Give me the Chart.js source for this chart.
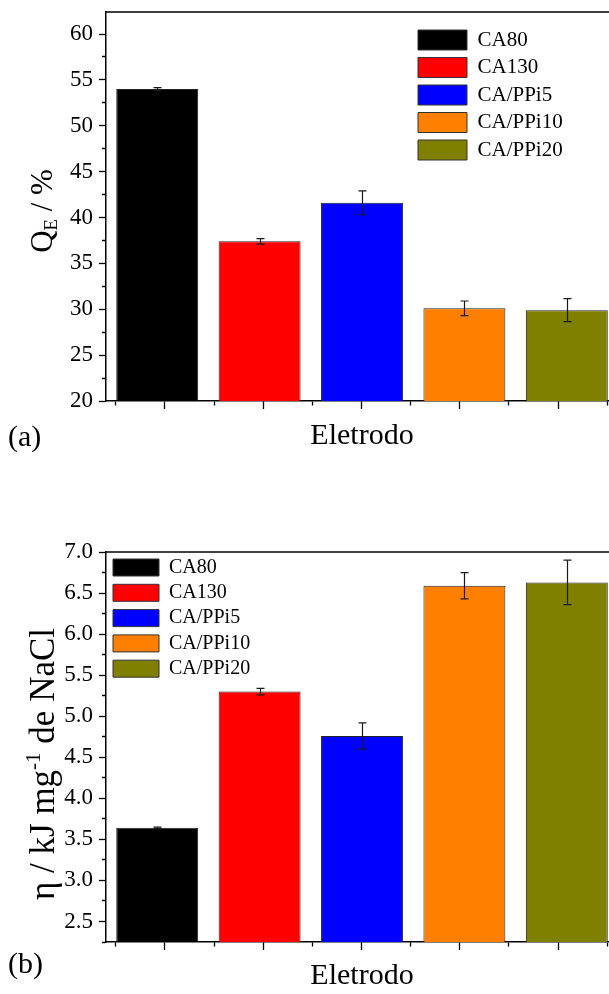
<!DOCTYPE html>
<html><head><meta charset="utf-8">
<script src="https://cdn.jsdelivr.net/npm/chart.js@4.4.0/dist/chart.umd.min.js"></script>
<style>
html,body{margin:0;padding:0;background:#fff;overflow:hidden;}
#wrap{position:relative;width:609px;height:994px;overflow:hidden;background:#fff;}
.box{position:absolute;left:0;width:620px;}
#b1{top:0;height:460px;}
#b2{top:530px;height:464px;}
canvas{display:block;}
</style></head><body>
<div id="wrap">
<div class="box" id="b1"><canvas id="c1" width="620" height="460"></canvas></div>
<div class="box" id="b2"><canvas id="c2" width="620" height="464"></canvas></div>
</div>
<script>
// ---- data ----
const categories = ['CA80', 'CA130', 'CA/PPi5', 'CA/PPi10', 'CA/PPi20'];
const qeValues = [54.0, 37.4, 41.6, 30.1, 29.9];
const qeErrors = [0.15, 0.3, 1.3, 0.8, 1.25];
const etaValues = [3.64, 5.30, 4.76, 6.59, 6.63];
const etaErrors = [0.01, 0.04, 0.16, 0.16, 0.27];
const barColors = ['#000000', '#ff0000', '#0000ff', '#ff8000', '#808000'];
const qeTickLabels = ['20', '25', '30', '35', '40', '45', '50', '55', '60'];
const etaTickLabels = ['2.5', '3.0', '3.5', '4.0', '4.5', '5.0', '5.5', '6.0', '6.5', '7.0'];
const xTitle = 'Eletrodo';

const FONT = "'Liberation Serif', 'Times New Roman', serif";

const errorBars = {
  id: 'errorBars',
  afterDatasetsDraw(chart, args, o) {
    const meta = chart.getDatasetMeta(0);
    const ys = chart.scales.y;
    const ds = chart.data.datasets[0];
    const ctx = chart.ctx;
    ctx.save();
    ctx.strokeStyle = '#1a1a1a';
    ctx.lineWidth = 1.2;
    meta.data.forEach((el, i) => {
      const v = ds.data[i], e = ds.errors[i];
      const yt = ys.getPixelForValue(v + e), yb = ys.getPixelForValue(v - e);
      const x = Math.round(el.x) + 0.5;
      ctx.beginPath();
      ctx.moveTo(x, yt); ctx.lineTo(x, yb);
      ctx.moveTo(x - 4, yt); ctx.lineTo(x + 4, yt);
      ctx.moveTo(x - 4, yb); ctx.lineTo(x + 4, yb);
      ctx.stroke();
    });
    ctx.restore();
  }
};

const decor = {
  id: 'decor',
  afterLayout(chart, args, o) {
    if (chart.legend && o.legendLeft !== undefined) {
      const lg = chart.legend;
      const w = lg.right - lg.left, h = lg.bottom - lg.top;
      lg.left = o.legendLeft; lg.top = o.legendTop;
      lg.right = lg.left + w; lg.bottom = lg.top + h;
    }
  },
  afterDraw(chart, args, o) {
    const ctx = chart.ctx, ca = chart.chartArea;
    ctx.save();
    // top frame line
    ctx.strokeStyle = '#000'; ctx.lineWidth = 1.5;
    ctx.beginPath(); ctx.moveTo(ca.left, ca.top); ctx.lineTo(ca.right, ca.top); ctx.stroke();
    // panel label
    ctx.fillStyle = '#000';
    ctx.font = '30px ' + FONT;
    ctx.textBaseline = 'middle'; ctx.textAlign = 'left';
    ctx.fillText(o.panel, o.panelX, o.panelY);
    // rotated y title with sub/superscript parts
    ctx.translate(o.titleX, o.titleY);
    ctx.rotate(-Math.PI / 2);
    const size = o.titleSize;
    const parts = o.titleParts;
    let total = 0;
    parts.forEach(p => {
      ctx.font = (p.s ? size * 0.6 : size) + 'px ' + FONT;
      p.w = ctx.measureText(p.t).width;
      total += p.w;
    });
    let x = -total / 2;
    ctx.textAlign = 'left'; ctx.textBaseline = 'alphabetic';
    parts.forEach(p => {
      ctx.font = (p.s ? size * 0.6 : size) + 'px ' + FONT;
      const dy = p.s === 'sub' ? size * 0.18 : (p.s === 'sup' ? -size * 0.42 : 0);
      ctx.fillText(p.t, x, size * 0.35 + dy);
      x += p.w;
    });
    ctx.restore();
  }
};

function makeChart(id, cfg) {
  const isMajor = v => cfg.tickLabels.includes(cfg.fmt(v));
  return new Chart(document.getElementById(id), {
    type: 'bar',
    data: {
      labels: categories,
      datasets: [{
        data: cfg.values,
        errors: cfg.errors,
        backgroundColor: barColors,
        borderColor: '#222',
        borderWidth: 1,
        categoryPercentage: 1,
        barPercentage: 0.8,
        xAxisID: 'x', yAxisID: 'y'
      }]
    },
    options: {
      responsive: false,
      animation: false,
      devicePixelRatio: 1,
      layout: { padding: { top: cfg.padTop, right: 2, left: 0, bottom: 0 } },
      plugins: {
        tooltip: { enabled: false },
        legend: {
          display: true,
          position: 'chartArea',
          align: 'start',
          labels: {
            font: { family: FONT, size: cfg.legFont },
            color: '#000',
            boxWidth: cfg.boxW, boxHeight: cfg.boxH,
            padding: cfg.legPad,
            generateLabels: (chart) => categories.map((c, i) => ({
              text: c, fillStyle: barColors[i], strokeStyle: '#333', lineWidth: 1,
              hidden: false, index: i, fontColor: '#000'
            }))
          }
        },
        decor: cfg.decor
      },
      scales: {
        x: { type: 'category', display: false, offset: true },
        xt: {
          type: 'linear', position: 'bottom', min: 0.4, max: 5.61, offset: false,
          ticks: { stepSize: 0.5, includeBounds: false, autoSkip: false, callback: () => '', padding: 0 },
          grid: {
            offset: false,
            drawOnChartArea: false, tickLength: 8, tickWidth: 1.3, tickColor: '#000',
            tickBorderDash: (c) => (c.tick && Math.abs(c.tick.value - Math.round(c.tick.value)) < 1e-6) ? [] : [4, 100]
          },
          border: { color: '#000', width: 1.5 },
          title: { display: true, text: xTitle, color: '#000', font: { family: FONT, size: 30 }, padding: { top: 0, bottom: cfg.xTitlePad } },
          afterFit: (s) => { s.height = cfg.xtHeight; s.paddingLeft = 0; s.paddingRight = 0; }
        },
        y: {
          type: 'linear', position: 'left', min: cfg.min, max: cfg.max,
          ticks: {
            stepSize: cfg.step, includeBounds: false, autoSkip: false, padding: 6,
            color: '#000', font: { family: FONT, size: 23 },
            callback: (v) => isMajor(v) ? cfg.fmt(v) : ''
          },
          grid: {
            drawOnChartArea: false, tickLength: 7, tickWidth: 1.3, tickColor: '#000',
            tickBorderDash: (c) => (c.tick && isMajor(c.tick.value)) ? [] : [0, 3, 4, 100]
          },
          border: { color: '#000', width: 1.5 },
          afterFit: (s) => { s.width = 106; s.paddingTop = 0; s.paddingBottom = 0; }
        }
      }
    },
    plugins: [errorBars, decor]
  });
}

makeChart('c1', {
  values: qeValues, errors: qeErrors, tickLabels: qeTickLabels,
  fmt: v => String(v), min: 20, max: 62.4, step: 2.5,
  padTop: 12, xtHeight: 59, xTitlePad: 6,
  legFont: 21, boxW: 49, boxH: 20, legPad: 6.5,
  decor: {
    legendLeft: 411.5, legendTop: 23,
    panel: '(a)', panelX: 8, panelY: 438,
    titleX: 41, titleY: 211, titleSize: 31,
    titleParts: [{ t: 'Q' }, { t: 'E', s: 'sub' }, { t: ' / %' }]
  }
});

makeChart('c2', {
  values: etaValues, errors: etaErrors, tickLabels: etaTickLabels,
  fmt: v => v.toFixed(1), min: 2.25, max: 7.0, step: 0.25,
  padTop: 22, xtHeight: 52, xTitlePad: 0,
  legFont: 20, boxW: 46, boxH: 17, legPad: 5.3,
  decor: {
    legendLeft: 107.7, legendTop: 22.2,
    panel: '(b)', panelX: 8, panelY: 435,
    titleX: 42, titleY: 234, titleSize: 35,
    titleParts: [{ t: '\u03B7 / kJ mg' }, { t: '-1', s: 'sup' }, { t: ' de NaCl' }]
  }
});
</script>
</body></html>
